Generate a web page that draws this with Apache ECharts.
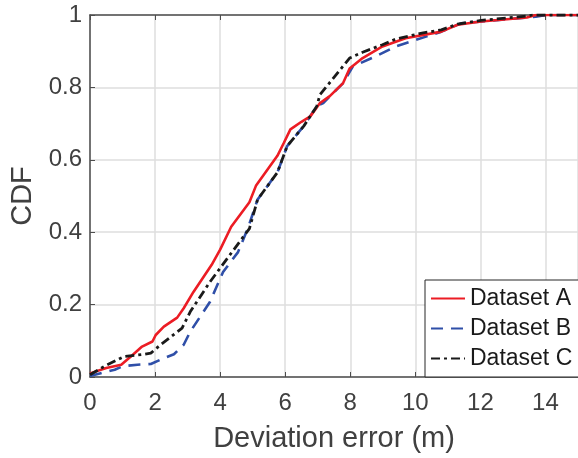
<!DOCTYPE html>
<html>
<head>
<meta charset="utf-8">
<script src="https://cdn.jsdelivr.net/npm/echarts@6/dist/echarts.min.js"></script>
<style>
  html, body { margin: 0; padding: 0; background: #fff; }
  #chart { width: 578px; height: 458px; }
</style>
</head>
<body>
<div id="chart"></div>
<script>
// x = deviation error (m), y = CDF
var xTicks = [0, 2, 4, 6, 8, 10, 12, 14];
var yTicks = [0, 0.2, 0.4, 0.6, 0.8, 1];
var seriesNames = ['Dataset A', 'Dataset B', 'Dataset C'];

var dataA = [
    [0, 0.01], [0.5, 0.025], [0.96, 0.034], [1.3, 0.06], [1.6, 0.084], [1.92, 0.098],
    [2.02, 0.116], [2.27, 0.139], [2.68, 0.164], [2.88, 0.19], [3.18, 0.235], [3.74, 0.31],
    [4.0, 0.352], [4.34, 0.415], [4.9, 0.483], [5.1, 0.528], [5.76, 0.611], [5.96, 0.647],
    [6.16, 0.684], [6.5, 0.705], [6.77, 0.72], [7.07, 0.757], [7.37, 0.776], [7.78, 0.812],
    [7.98, 0.852], [8.38, 0.881], [8.99, 0.913], [9.7, 0.936], [10.8, 0.954], [11.3, 0.973],
    [12.02, 0.982], [13.43, 0.993], [13.7, 1], [15, 1]
];
var dataB = [
    [0, 0.003], [0.76, 0.02], [1.01, 0.03], [1.46, 0.034], [1.87, 0.036], [2.27, 0.052],
    [2.58, 0.063], [2.88, 0.089], [3.08, 0.125], [3.69, 0.208], [4.09, 0.29], [4.55, 0.345],
    [4.85, 0.41], [5.15, 0.49], [5.76, 0.565], [6.06, 0.638], [6.57, 0.693], [6.97, 0.748],
    [7.17, 0.757], [7.78, 0.812], [8.08, 0.858], [8.79, 0.886], [9.39, 0.913], [9.7, 0.922],
    [10.8, 0.954], [11.4, 0.977], [12.4, 0.985], [13.7, 0.995], [14.0, 1], [15, 1]
];
var dataC = [
    [0, 0.006], [0.45, 0.03], [1.06, 0.057], [1.67, 0.063], [1.87, 0.066], [2.17, 0.089],
    [2.83, 0.135], [3.08, 0.18], [3.69, 0.263], [4.29, 0.336], [4.9, 0.41], [5.15, 0.49],
    [5.76, 0.565], [6.06, 0.638], [6.57, 0.693], [6.97, 0.748], [7.07, 0.78], [7.98, 0.881],
    [8.38, 0.897], [8.99, 0.918], [9.39, 0.933], [10.2, 0.95], [10.8, 0.959], [11.3, 0.975],
    [12.02, 0.985], [13.43, 0.997], [13.6, 1], [15, 1]
];

var myChart = echarts.init(document.getElementById('chart'));
var font = 'Liberation Sans, Arial, sans-serif';
var axisGray = '#4d4d4d';
var textGray = '#404040';

option = {
    animation: false,
    textStyle: { fontFamily: font },
    grid: { left: 90, right: -7, top: 15, bottom: 79 },
    legend: {
        orient: 'vertical',
        left: 425,
        top: 280,
        padding: [7, 7, 7, 5],
        itemGap: 7,
        itemWidth: 34,
        itemHeight: 14,
        backgroundColor: '#fff',
        borderColor: '#262626',
        borderWidth: 1,
        itemStyle: { opacity: 0 },   // hide the circle in the legend icon
        textStyle: { fontSize: 23, lineHeight: 23, color: '#1a1a1a', fontFamily: font },
        data: seriesNames
    },
    xAxis: [{
        type: 'value',
        min: 0,
        max: 15,
        interval: 2,
        name: 'Deviation error (m)',
        nameLocation: 'middle',
        nameGap: 47,
        nameTextStyle: { fontSize: 29, color: textGray },
        axisLine: { lineStyle: { color: axisGray, width: 1.5 } },
        axisTick: { inside: true, length: 5, lineStyle: { color: axisGray } },
        axisLabel: {
            fontSize: 24, color: textGray, margin: 14, showMaxLabel: false,
            formatter: function (v) { return xTicks.indexOf(v) >= 0 ? v + '' : ''; }
        },
        splitLine: { lineStyle: { color: '#dedede', width: 1.5 } }
    }, {
        type: 'value',
        position: 'top',
        min: 0,
        max: 15,
        interval: 2,
        axisLine: { onZero: false, lineStyle: { color: axisGray, width: 1.5 } },
        axisTick: { inside: true, length: 5, lineStyle: { color: axisGray } },
        axisLabel: { show: false },
        splitLine: { show: false }
    }],
    yAxis: {
        type: 'value',
        min: 0,
        max: 1,
        interval: 0.2,
        name: 'CDF',
        nameLocation: 'middle',
        nameGap: 43,
        nameTextStyle: { fontSize: 29, color: textGray },
        axisLine: { show: true, lineStyle: { color: axisGray, width: 1.5 } },
        axisTick: { show: true, inside: true, length: 5, lineStyle: { color: axisGray } },
        axisLabel: {
            fontSize: 24, color: textGray, margin: 8,
            formatter: function (v) { return yTicks.indexOf(+v.toFixed(1)) >= 0 ? +v.toFixed(1) + '' : ''; }
        },
        splitLine: { lineStyle: { color: '#dedede', width: 1.5 } }
    },
    series: [{
        name: seriesNames[0],
        type: 'line',
        showSymbol: false,
        symbol: 'none',
        data: dataA,
        z: 3,
        itemStyle: { color: '#ec1c24' },
        lineStyle: { color: '#ec1c24', width: 2.6 }
    }, {
        name: seriesNames[1],
        type: 'line',
        showSymbol: false,
        symbol: 'none',
        data: dataB,
        z: 2,
        itemStyle: { color: '#2f4fa8' },
        lineStyle: { color: '#2f4fa8', width: 2.6, type: [12, 8] }
    }, {
        name: seriesNames[2],
        type: 'line',
        showSymbol: false,
        symbol: 'none',
        data: dataC,
        z: 4,
        itemStyle: { color: '#1a1a1a' },
        lineStyle: { color: '#1a1a1a', width: 2.8, type: [9, 4, 3, 4] }
    }]
};
myChart.setOption(option);
window.addEventListener("resize", function () {
    myChart.resize();
});
</script>
</body>
</html>
